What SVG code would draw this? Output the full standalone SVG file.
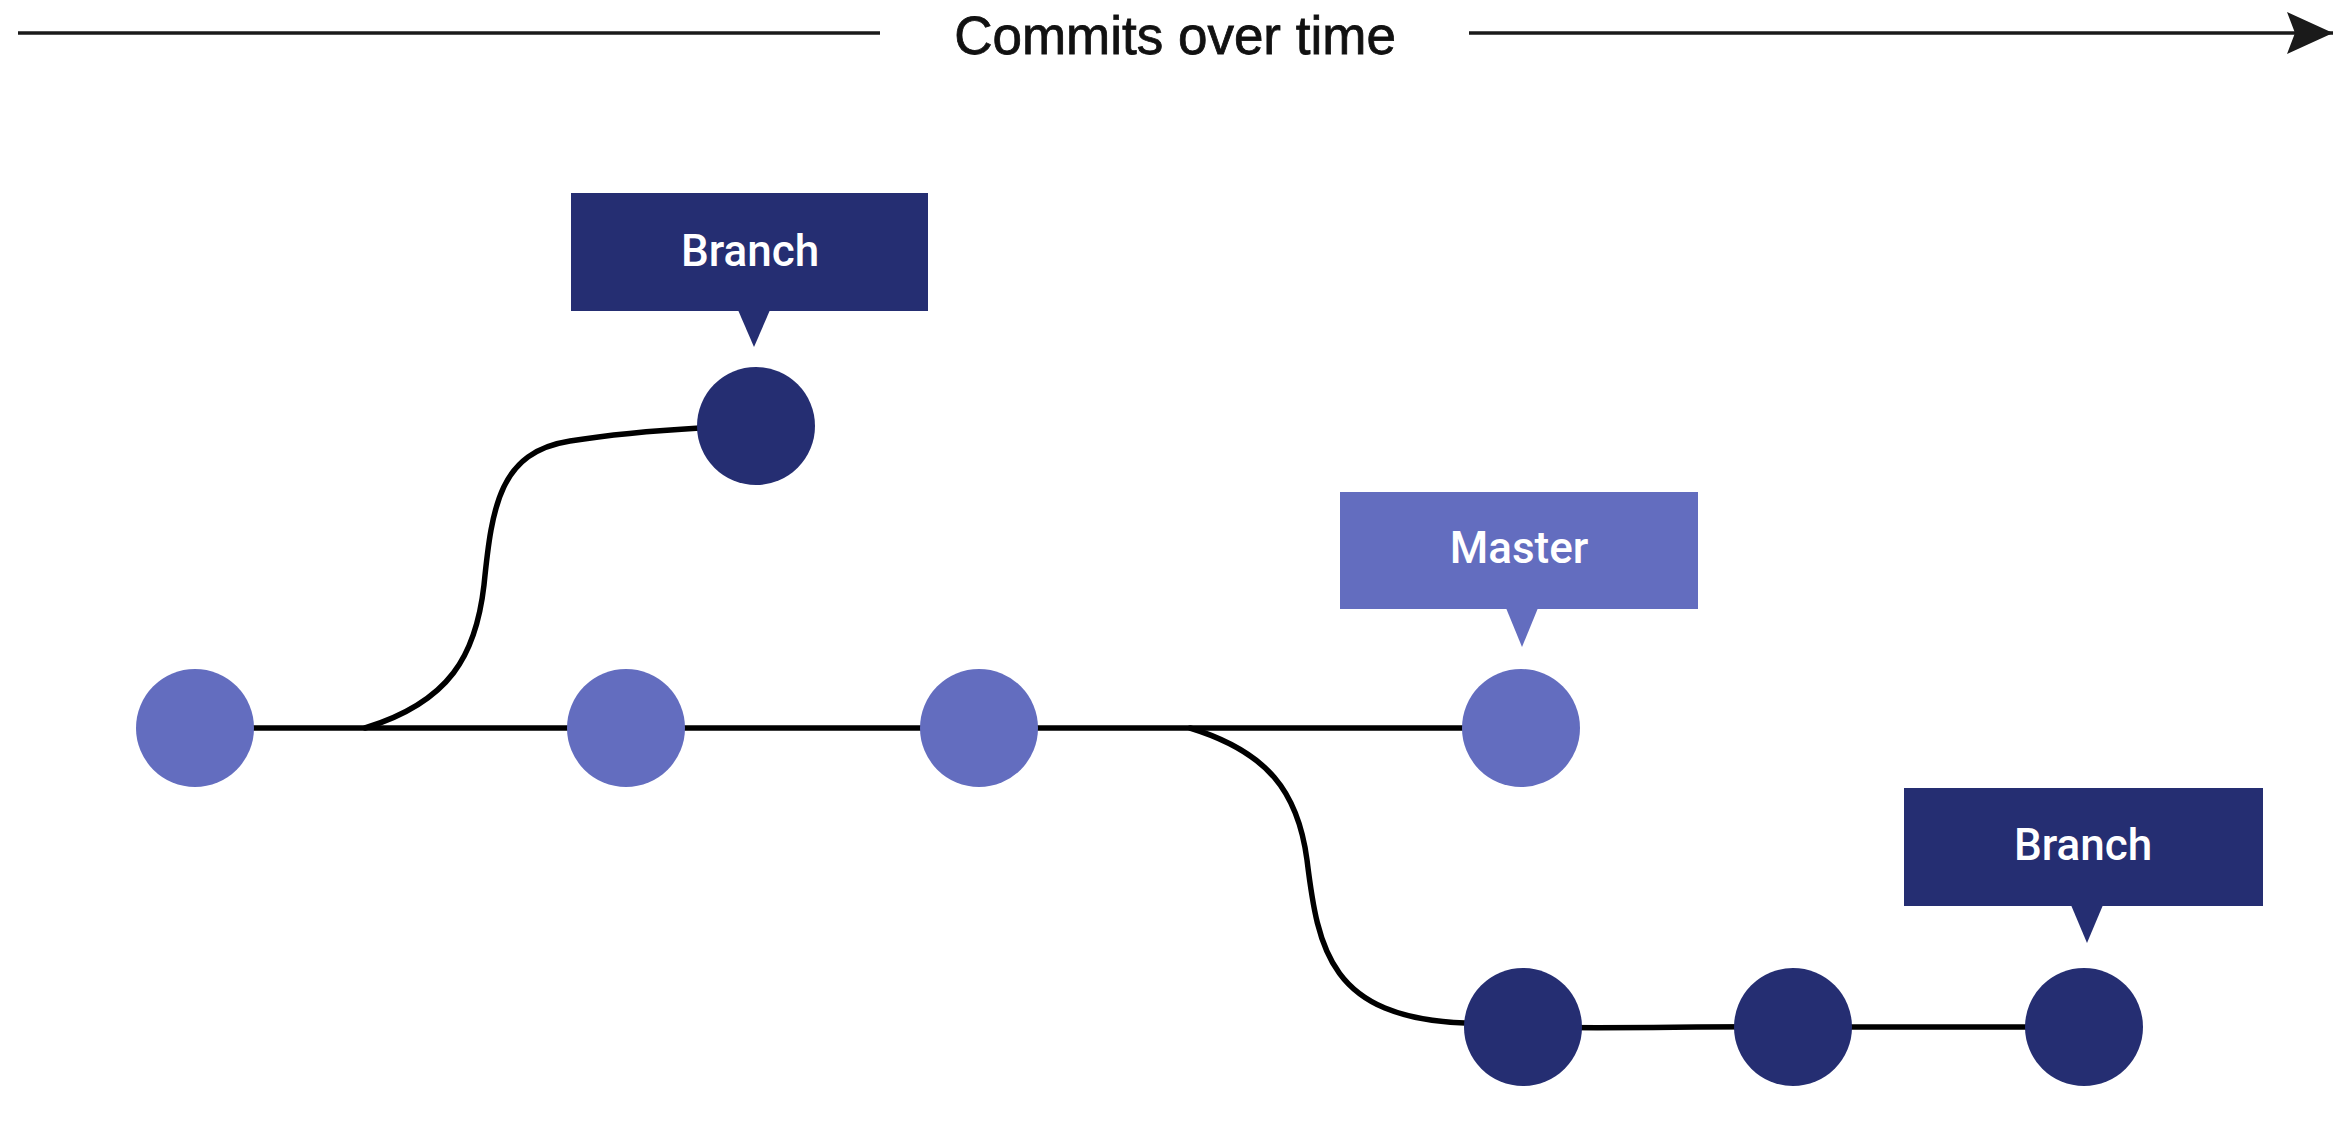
<svg xmlns="http://www.w3.org/2000/svg" width="2350" height="1144" viewBox="0 0 2350 1144">
  <style>
    .light { fill: #636dbf; }
    .dark { fill: #252e72; }
    .edge { fill: none; stroke: #000; stroke-width: 5.5; stroke-linecap: round; }
    .axis { fill: none; stroke: #1a1a1a; stroke-width: 3.5; }
    .label { font-family: Roboto, "Liberation Sans", Arial, sans-serif; font-weight: 500; font-size: 44px; fill: #fff; text-anchor: middle; }
    .title { font-family: "Liberation Sans", Arial, sans-serif; font-size: 53px; fill: #111; stroke: #111; stroke-width: 0.8; text-anchor: middle; }
  </style>
  <defs>
    <marker id="arrow" markerUnits="userSpaceOnUse" markerWidth="50" markerHeight="44" refX="46" refY="22" orient="auto">
      <path d="M0,1 L46,22 L0,43 L8,22 Z" fill="#1a1a1a"/>
    </marker>
  </defs>
  <rect width="2350" height="1144" fill="#fff"/>

  <g id="axis">
    <line class="axis" x1="18" y1="33" x2="880" y2="33"/>
    <line class="axis" x1="1469" y1="33" x2="2333" y2="33" marker-end="url(#arrow)"/>
    <text class="title" x="1175" y="54">Commits over time</text>
  </g>

  <g id="connectors">
    <line class="edge" x1="195" y1="728" x2="1521" y2="728"/>
    <path class="edge" d="M365,728 C450,702 476,655 484,585 C492,505 500,452 570,441 C620,433 665,430 700,428"/>
    <path class="edge" d="M1190,728 C1268,752 1298,792 1307,860 C1318,950 1330,1018 1465,1023"/>
    <path class="edge" d="M1523,1027 C1620,1029 1700,1026 1793,1027 L2084,1027"/>
  </g>

  <g id="commit-1"><circle class="light" cx="195" cy="728" r="59"/></g>
  <g id="commit-2"><circle class="light" cx="626" cy="728" r="59"/></g>
  <g id="commit-3"><circle class="light" cx="979" cy="728" r="59"/></g>
  <g id="commit-master"><circle class="light" cx="1521" cy="728" r="59"/></g>
  <g id="commit-branch-top"><circle class="dark" cx="756" cy="426" r="59"/></g>
  <g id="commit-branch-1"><circle class="dark" cx="1523" cy="1027" r="59"/></g>
  <g id="commit-branch-2"><circle class="dark" cx="1793" cy="1027" r="59"/></g>
  <g id="commit-branch-3"><circle class="dark" cx="2084" cy="1027" r="59"/></g>

  <g id="label-branch-top">
    <rect class="dark" x="571" y="193" width="357" height="118"/>
    <polygon class="dark" points="738,310 770,310 754,347"/>
    <text class="label" x="750" y="266">Branch</text>
  </g>
  <g id="label-master">
    <rect class="light" x="1340" y="492" width="358" height="117"/>
    <polygon class="light" points="1506,608 1538,608 1522,647"/>
    <text class="label" x="1519" y="563">Master</text>
  </g>
  <g id="label-branch-bottom">
    <rect class="dark" x="1904" y="788" width="359" height="118"/>
    <polygon class="dark" points="2071,905 2103,905 2087,943"/>
    <text class="label" x="2083" y="860">Branch</text>
  </g>
</svg>
